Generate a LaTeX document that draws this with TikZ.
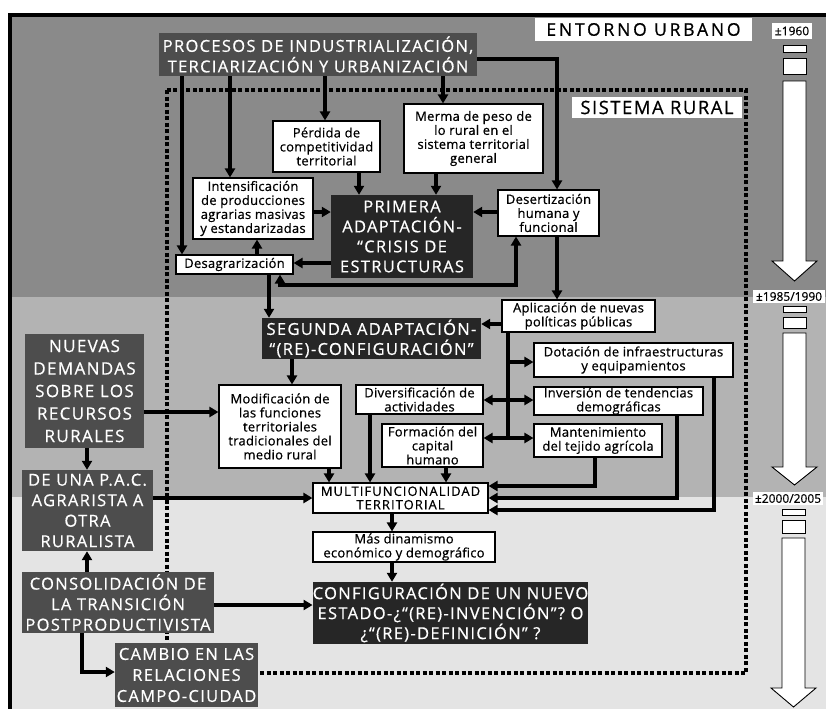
\documentclass[tikz,border=0pt]{standalone}
\usepackage{fontspec}
\setmainfont{Open Sans}
\newfontfamily\capf[LetterSpace=8,FakeBold=0.6]{Open Sans}
\newfontfamily\bigf[LetterSpace=16,FakeBold=0.8]{Open Sans}
\newfontfamily\smf[LetterSpace=2,FakeBold=0.6]{Open Sans}
\newfontfamily\tlf[FakeBold=0.4]{Open Sans}
\usetikzlibrary{arrows.meta}
\definecolor{bandA}{HTML}{8A8A8A}
\definecolor{bandB}{HTML}{B3B3B3}
\definecolor{bandC}{HTML}{E4E4E4}
\definecolor{dgrey}{HTML}{4D4D4D}
\definecolor{kgrey}{HTML}{262626}
\tikzset{
  wbox/.style={draw=black, line width=1.1pt, fill=white, inner sep=0pt, align=center, text=black,
    font=\smf\fontsize{13}{14}\selectfont},
  dbox/.style={fill=dgrey, inner sep=0pt, align=center, text=white,
    font=\capf\fontsize{16.5}{20.5}\selectfont},
  kbox/.style={fill=kgrey, inner sep=0pt, align=center, text=white,
    font=\capf\fontsize{16.5}{20}\selectfont},
  lbl/.style={fill=white, inner sep=0pt, text=black, align=center},
  tlbl/.style={fill=white, inner sep=0pt, text=black, font=\tlf\fontsize{12}{13}\selectfont},
  arr/.style={line width=3.3pt, line join=miter, -{Triangle[length=9pt,width=10pt]}},
  arrb/.style={line width=3.3pt, line join=miter, {Triangle[length=9pt,width=10pt]}-{Triangle[length=9pt,width=10pt]}},
  ln/.style={line width=3.3pt, line join=miter},
  tarr/.style={fill=white, draw=black, line width=0.9pt},
  frame/.style={line width=4pt, dash pattern=on 4pt off 2.5pt}
}
\begin{document}
\begin{tikzpicture}[x=1pt,y=-1pt]
\useasboundingbox (0,0) rectangle (826,709);
\fill[white] (0,0) rectangle (826,709);
\fill[black] (8,13) rectangle (826,709);
\fill[bandA] (12,17) rectangle (826,297);
\fill[bandB] (12,297) rectangle (826,497);
\fill[bandC] (12,497) rectangle (826,709);

% timeline
\draw[tarr] (783,45) rectangle (806,52);
\draw[tarr] (783,58) rectangle (806,74);
\draw[tarr] (783,81) -- (806,81) -- (806,261) -- (817,261) -- (794.5,281) -- (772,261) -- (783,261) -- cycle;
\draw[tarr] (783,306) rectangle (806,312);
\draw[tarr] (783,317) rectangle (806,328);
\draw[tarr] (783,333) -- (806,333) -- (806,467) -- (817,467) -- (794.5,485) -- (772,467) -- (783,467) -- cycle;
\draw[tarr] (782,509) rectangle (805,515);
\draw[tarr] (782,520) rectangle (805,533);
\draw[tarr] (782,538) -- (805,538) -- (805,688) -- (816,688) -- (793.5,707) -- (771,688) -- (782,688) -- cycle;
\node[tlbl, minimum width=40pt, minimum height=16pt] (t1) at (792,31) {±1960};
\node[tlbl, minimum width=72pt, minimum height=13pt] (t2) at (789,296.5) {±1985/1990};
\node[tlbl, minimum width=70pt, minimum height=13pt] (t3) at (788,498.5) {±2000/2005};

% rural system frame
\draw[frame] (167,90) rectangle (746,673);

% labels
\node[lbl, minimum width=217pt, minimum height=23pt, font=\bigf\fontsize{17.5}{20}\selectfont] (entorno) at (643.5,29.5) {ENTORNO URBANO};
\node[lbl, minimum width=170pt, minimum height=21pt, font=\capf\fontsize{18.5}{20}\selectfont] (sistema) at (657,107.5) {SISTEMA RURAL};

% boxes
\node[dbox, minimum width=318pt, minimum height=43pt] (proc) at (318,54.5) {PROCESOS DE INDUSTRIALIZACIÓN,\\TERCIARIZACIÓN Y URBANIZACIÓN};
\node[wbox, minimum width=107pt, minimum height=51pt] (perdida) at (326.5,146.5) {Pérdida de\\competitividad\\territorial};
\node[wbox, minimum width=139pt, minimum height=69pt] (merma) at (473.5,138.5) {Merma de peso de\\lo rural en el\\sistema territorial\\general};
\node[wbox, minimum width=120pt, minimum height=61pt] (intens) at (253,208.5) {Intensificación\\de producciones\\agrarias masivas\\y estandarizadas};
\node[kbox, minimum width=142pt, minimum height=83pt] (primera) at (402,236.5) {PRIMERA\\ADAPTACIÓN-\\“CRISIS DE\\ESTRUCTURAS};
\node[wbox, minimum width=101pt, minimum height=46pt] (desert) at (548.5,213) {Desertización\\humana y\\funcional};
\node[wbox, minimum width=117pt, minimum height=19pt] (desagr) at (234.5,264.5) {Desagrarización};
\node[kbox, minimum width=219pt, minimum height=41pt] (segunda) at (371.5,338.5) {SEGUNDA ADAPTACIÓN-\\“(RE)-CONFIGURACIÓN”};
\node[wbox, minimum width=153pt, minimum height=32pt] (aplic) at (578.5,316) {Aplicación de nuevas\\políticas públicas};
\node[wbox, minimum width=199pt, minimum height=34pt] (dotac) at (633.5,360) {Dotación de infraestructuras\\y equipamientos};
\node[wbox, minimum width=169pt, minimum height=28pt] (invers) at (618.5,401) {Inversión de tendencias\\demográficas};
\node[wbox, minimum width=128pt, minimum height=33pt] (mant) at (598,440.5) {Mantenimiento\\del tejido agrícola};
\node[wbox, minimum width=127pt, minimum height=29pt] (divers) at (419.5,399.5) {Diversificación de\\actividades};
\node[wbox, minimum width=101pt, minimum height=43pt] (formac) at (432.5,445.5) {Formación del\\capital\\humano};
\node[wbox, minimum width=122pt, minimum height=83pt] (modif) at (280,426.5) {Modificación de\\las funciones\\territoriales\\tradicionales del\\medio rural};
\node[dbox, minimum width=119pt, minimum height=114pt, font=\capf\fontsize{17}{22.5}\selectfont] (nuevas) at (84.5,391) {NUEVAS\\DEMANDAS\\SOBRE LOS\\RECURSOS\\RURALES};
\node[dbox, minimum width=131pt, minimum height=81pt] (deuna) at (87.5,510.5) {DE UNA P.A.C.\\AGRARISTA A\\OTRA\\RURALISTA};
\node[wbox, minimum width=175pt, minimum height=30pt, font=\capf\fontsize{13}{13.5}\selectfont] (multi) at (400.5,498) {MULTIFUNCIONALIDAD\\TERRITORIAL};
\node[wbox, minimum width=182pt, minimum height=30pt] (mas) at (404,547) {Más dinamismo\\económico y demográfico};
\node[kbox, minimum width=275pt, minimum height=62pt] (config) at (450.5,613) {CONFIGURACIÓN DE UN NUEVO\\ESTADO-¿“(RE)-INVENCIÓN”? O\\¿“(RE)-DEFINICIÓN” ?};
\node[dbox, minimum width=192pt, minimum height=61pt] (consol) at (118,602.5) {CONSOLIDACIÓN DE\\LA TRANSICIÓN\\POSTPRODUCTIVISTA};
\node[dbox, minimum width=143pt, minimum height=64pt, font=\capf\fontsize{16.5}{21}\selectfont] (cambio) at (186.5,675) {CAMBIO EN LAS\\RELACIONES\\CAMPO-CIUDAD};

% connectors
\draw[arr] (182,0 |- proc.south) -- (182,0 |- desagr.north);
\draw[arr] (230,0 |- proc.south) -- (230,0 |- intens.north);
\draw[arr] (325,0 |- proc.south) -- (325,0 |- perdida.north);
\draw[arr] (443,0 |- proc.south) -- (443,0 |- merma.north);
\draw[arr] (proc.east |- 0,59) -- (557,59) -- (557,0 |- desert.north);
\draw[arr] (359,0 |- perdida.south) -- (359,0 |- primera.north);
\draw[arr] (436,0 |- merma.south) -- (436,0 |- primera.north);
\draw[arr] (intens.east |- 0,212) -- (primera.west |- 0,212);
\draw[arr] (desert.west |- 0,212) -- (primera.east |- 0,212);
\draw[arr] (primera.west |- 0,263) -- (desagr.east |- 0,263);
\draw[arr] (257,0 |- desagr.north) -- (257,0 |- intens.south);
\draw[arrb] (280,0 |- desagr.south) -- (280,285) -- (516,285) -- (516,0 |- desert.south);
\draw[arr] (269,0 |- desagr.south) -- (269,0 |- segunda.north);
\draw[arr] (557,0 |- desert.south) -- (557,0 |- aplic.north);
\draw[arr] (aplic.west |- 0,324) -- (segunda.east |- 0,324);
\draw[arr] (292,0 |- segunda.south) -- (292,0 |- modif.north);
\draw[ln] (508,0 |- aplic.south) -- (508,439.6);
\coordinate (b1) at (508,362);
\coordinate (b2) at (508,400);
\coordinate (b3) at (508,438);
\draw[arr] (b1) -- (dotac.west |- b1);
\draw[arr] (b2) -- (invers.west |- b2);
\draw[arr] (b3) -- (mant.west |- b3);
\draw[arr] (b2) -- (divers.east |- b2);
\draw[arr] (b3) -- (formac.east |- b3);
\draw[arr] (nuevas.east |- 0,412) -- (modif.west |- 0,412);
\draw[arr] (87,0 |- nuevas.south) -- (87,0 |- deuna.north);
\draw[arr] (deuna.east |- 0,498) -- (multi.west |- 0,498);
\draw[arr] (329,0 |- modif.south) -- (329,0 |- multi.north);
\draw[arr] (370,0 |- divers.south) -- (370,0 |- multi.north);
\draw[arr] (446,0 |- formac.south) -- (446,0 |- multi.north);
\draw[arr] (595,0 |- mant.south) -- (595,486) -- (multi.east |- 0,486);
\draw[arr] (677,0 |- invers.south) -- (677,498) -- (multi.east |- 0,498);
\draw[arr] (714,0 |- dotac.south) -- (714,510) -- (multi.east |- 0,510);
\draw[arr] (392,0 |- multi.south) -- (392,0 |- mas.north);
\draw[arr] (392,0 |- mas.south) -- (392,0 |- config.north);
\draw[arr] (consol.east |- 0,605) -- (config.west |- 0,605);
\draw[arr] (87,0 |- consol.north) -- (87,0 |- deuna.south);
\draw[arr] (82,0 |- consol.south) -- (82,672) -- (cambio.west |- 0,672);
\end{tikzpicture}
\end{document}
